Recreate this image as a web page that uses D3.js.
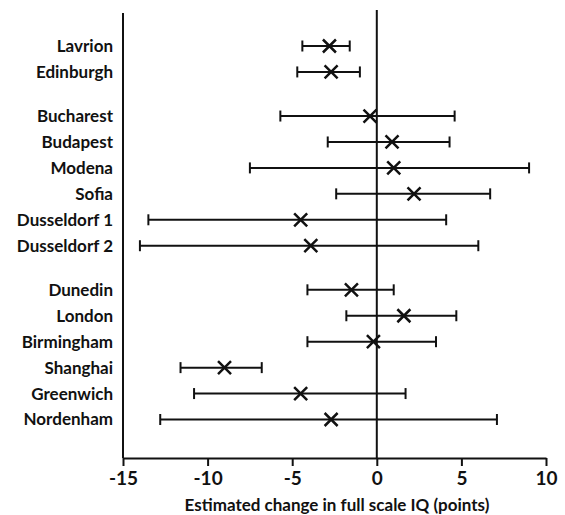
<!DOCTYPE html>
<html>
<head>
<meta charset="utf-8">
<script src="https://cdn.jsdelivr.net/npm/d3@7"></script>
<style>
  body { margin: 0; background: #fff; }
  svg text { font-family: Lato, "Open Sans", sans-serif; fill: #111; }
</style>
</head>
<body>
<svg width="565" height="515"></svg>
<script>
;(function (d3) {
  var svg = d3.select('svg')

  // sites, top to bottom; group index puts a gap between the three blocks
  var sites = ['Lavrion', 'Edinburgh', 'Bucharest', 'Budapest', 'Modena', 'Sofia',
    'Dusseldorf 1', 'Dusseldorf 2', 'Dunedin', 'London', 'Birmingham', 'Shanghai',
    'Greenwich', 'Nordenham']
  var groups = [0, 0, 1, 1, 1, 1, 1, 1, 2, 2, 2, 2, 2, 2]
  var estimate = [-2.8, -2.7, -0.4, 0.9, 1.0, 2.2, -4.5, -3.9, -1.5, 1.6, -0.2, -9.0, -4.5, -2.7]
  var lower = [-4.4, -4.7, -5.7, -2.9, -7.5, -2.4, -13.5, -14.0, -4.1, -1.8, -4.1, -11.6, -10.8, -12.8]
  var upper = [-1.6, -1.0, 4.6, 4.3, 9.0, 6.7, 4.1, 6.0, 1.0, 4.7, 3.5, -6.8, 1.7, 7.1]
  var xTicks = [-15, -10, -5, 0, 5, 10]

  var data = sites.map(function (s, i) {
    return { site: s, slot: i + groups[i] * 0.7, est: estimate[i], lo: lower[i], hi: upper[i] }
  })

  var x = d3.scaleLinear().domain([-15, 10]).range([123, 546])
  var y = d3.scaleLinear().domain([0, 14.4]).range([46, 419.5])
  var axisY = 458

  // x axis
  var xAxis = svg.append('g')
    .attr('transform', 'translate(0,' + axisY + ')')
    .call(d3.axisBottom(x)
      .tickValues(xTicks)
      .tickFormat(function (d) { return String(d) })
      .tickSize(8).tickPadding(6).tickSizeOuter(0))
  xAxis.select('.domain').attr('stroke', '#111').attr('stroke-width', 2)
  xAxis.selectAll('.tick line').attr('stroke', '#111').attr('stroke-width', 2)
  xAxis.selectAll('.tick text')
    .style('font-size', '19px')
    .style('font-weight', 'bold')
    .attr('fill', '#111')

  // left axis line and zero line
  svg.append('line')
    .attr('x1', x(-15)).attr('x2', x(-15))
    .attr('y1', 13).attr('y2', axisY)
    .style('stroke', '#111').style('stroke-width', 2)
  svg.append('line')
    .attr('x1', x(0)).attr('x2', x(0))
    .attr('y1', 10).attr('y2', axisY)
    .style('stroke', '#111').style('stroke-width', 2)

  var rows = svg.selectAll('g.row')
    .data(data)
    .enter()
    .append('g')
    .attr('class', 'row')
    .attr('transform', function (d) { return 'translate(0,' + y(d.slot) + ')' })

  rows.append('text')
    .attr('x', 113)
    .attr('dy', '0.35em')
    .attr('text-anchor', 'end')
    .style('font-size', '17px')
    .style('font-weight', 'bold')
    .text(function (d) { return d.site })

  var stroke = function (sel) {
    return sel.style('stroke', '#111').style('stroke-width', 2).style('fill', 'none')
  }

  stroke(rows.append('line')
    .attr('x1', function (d) { return x(d.lo) })
    .attr('x2', function (d) { return x(d.hi) }))
  stroke(rows.append('line')
    .attr('x1', function (d) { return x(d.lo) })
    .attr('x2', function (d) { return x(d.lo) })
    .attr('y1', -5.5).attr('y2', 5.5))
  stroke(rows.append('line')
    .attr('x1', function (d) { return x(d.hi) })
    .attr('x2', function (d) { return x(d.hi) })
    .attr('y1', -5.5).attr('y2', 5.5))

  // cross markers
  rows.append('path')
    .attr('d', function (d) {
      var cx = x(d.est)
      return 'M' + (cx - 6.5) + ',-6.5L' + (cx + 6.5) + ',6.5M' + (cx - 6.5) + ',6.5L' + (cx + 6.5) + ',-6.5'
    })
    .style('stroke', '#111')
    .style('stroke-width', 2.5)

  svg.append('text')
    .attr('x', 337)
    .attr('y', 511)
    .attr('text-anchor', 'middle')
    .style('font-size', '17px')
    .style('font-weight', 'bold')
    .text('Estimated change in full scale IQ (points)')
})(window.d3)
</script>
</body>
</html>
